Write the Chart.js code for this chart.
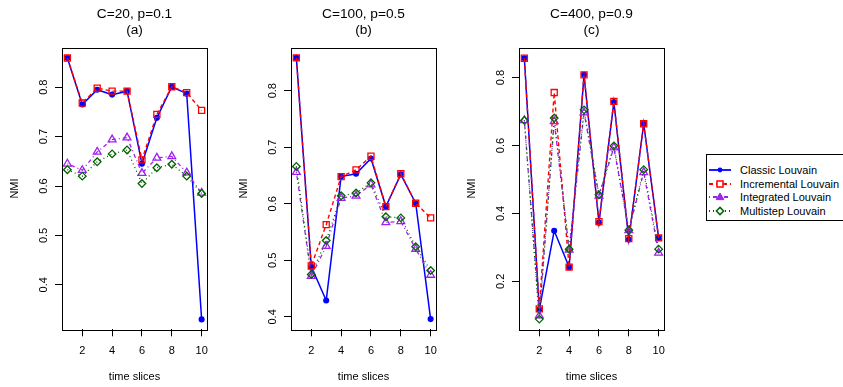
<!DOCTYPE html>
<html>
<head>
<meta charset="utf-8">
<script src="https://cdn.jsdelivr.net/npm/chart.js@4.4.1/dist/chart.umd.min.js"></script>
<style>
  body { margin: 0; background: #fff; }
  #wrap { position: relative; width: 843px; height: 387px; overflow: hidden; font-family: "Liberation Sans", Arial, sans-serif; }
  #wrap canvas { position: absolute; top: 0; }
  #legend { position: absolute; left: 706px; top: 154px; width: 150px; height: 67px; border: 1px solid #000; box-sizing: border-box; }
  #legend .row { position: absolute; left: 0; height: 14px; font-size: 11px; line-height: 14px; color: #000; white-space: nowrap; }
  #legend svg { position: absolute; left: 0; top: 0; }
  #legend span { position: absolute; left: 33px; top: 0; }
</style>
</head>
<body>
<div id="wrap">
  <canvas id="chartA" width="228" height="387" style="left:0px"></canvas>
  <canvas id="chartB" width="228" height="387" style="left:229px"></canvas>
  <canvas id="chartC" width="228" height="387" style="left:457px"></canvas>
  <div id="legend"></div>
</div>
<script>
// data
const timeSlices = [1, 2, 3, 4, 5, 6, 7, 8, 9, 10];
const xTicks = [2, 4, 6, 8, 10];
const seriesNames = ["Classic Louvain", "Incremental Louvain", "Integrated Louvain", "Multistep Louvain"];

// (a) C=20, p=0.1
const classicA     = [0.859, 0.765, 0.795, 0.785, 0.792, 0.645, 0.738, 0.801, 0.787, 0.330];
const incrementalA = [0.859, 0.768, 0.798, 0.792, 0.792, 0.653, 0.745, 0.801, 0.789, 0.753];
const integratedA  = [0.645, 0.632, 0.669, 0.694, 0.698, 0.626, 0.657, 0.660, 0.627, 0.586];
const multistepA   = [0.633, 0.620, 0.649, 0.665, 0.673, 0.605, 0.637, 0.644, 0.620, 0.585];
const yTicksA = [0.4, 0.5, 0.6, 0.7, 0.8];

// (b) C=100, p=0.5
const classicB     = [0.858, 0.489, 0.429, 0.648, 0.653, 0.680, 0.595, 0.652, 0.601, 0.396];
const incrementalB = [0.858, 0.490, 0.563, 0.648, 0.660, 0.684, 0.595, 0.653, 0.601, 0.575];
const integratedB  = [0.656, 0.472, 0.525, 0.610, 0.614, 0.634, 0.567, 0.569, 0.520, 0.474];
const multistepB   = [0.666, 0.475, 0.535, 0.614, 0.619, 0.637, 0.577, 0.575, 0.524, 0.482];
const yTicksB = [0.4, 0.5, 0.6, 0.7, 0.8];

// (c) C=400, p=0.9
const classicC     = [0.857, 0.117, 0.349, 0.242, 0.808, 0.373, 0.728, 0.323, 0.664, 0.328];
const incrementalC = [0.857, 0.119, 0.756, 0.242, 0.808, 0.376, 0.730, 0.326, 0.664, 0.328];
const integratedC  = [0.674, 0.099, 0.671, 0.293, 0.697, 0.452, 0.594, 0.350, 0.521, 0.284];
const multistepC   = [0.674, 0.089, 0.681, 0.295, 0.705, 0.455, 0.599, 0.351, 0.529, 0.295];
const yTicksC = [0.2, 0.4, 0.6, 0.8];

// line / marker look for each series (R: blue solid pch20, red dashed pch0, purple dotdash pch2, darkgreen dotted pch5)
const styles = [
  { color: "#0000FF", dash: [],          point: "circle",   radius: 2.4, width: 1.5, filled: true,  order: 3 },
  { color: "#FF0000", dash: [4, 3],      point: "rect",     radius: 4.3, width: 1.4, filled: false, order: 2 },
  { color: "#A020F0", dash: [1, 3, 4, 3], point: "triangle", radius: 4.5, width: 1.3, filled: false, order: 1 },
  { color: "#006400", dash: [1, 3],      point: "rectRot",  radius: 3.8, width: 1.3, filled: false, order: 0 }
];

Chart.defaults.font.family = '"Liberation Sans", Arial, sans-serif';
Chart.defaults.color = "#000";

// black frame round the plot region, like R's box()
const boxPlugin = {
  id: "box",
  afterDraw(chart) {
    const { ctx, chartArea: a } = chart;
    ctx.save();
    ctx.strokeStyle = "#000";
    ctx.lineWidth = 1;
    ctx.strokeRect(Math.round(a.left) + 0.5, Math.round(a.top) + 0.5, Math.round(a.right - a.left), Math.round(a.bottom - a.top));
    ctx.restore();
  }
};

function makePanel(id, title, tag, series, yMin, yMax, yTicks) {
  const datasets = series.map((vals, k) => {
    const s = styles[k];
    return {
      label: seriesNames[k],
      data: vals.map((v, i) => ({ x: timeSlices[i], y: v })),
      borderColor: s.color,
      backgroundColor: s.filled ? s.color : "rgba(0,0,0,0)",
      borderWidth: s.width,
      borderDash: s.dash,
      pointStyle: s.point,
      pointRadius: s.radius,
      pointBorderWidth: 1.3,
      pointBorderColor: s.color,
      pointBackgroundColor: s.filled ? s.color : "rgba(0,0,0,0)",
      tension: 0,
      order: s.order
    };
  });

  new Chart(document.getElementById(id).getContext("2d"), {
    type: "line",
    data: { datasets: datasets },
    plugins: [boxPlugin],
    options: {
      responsive: false,
      animation: false,
      devicePixelRatio: 1,
      layout: { padding: { left: 0, right: 21, top: 0, bottom: 0 } },
      plugins: {
        legend: { display: false },
        tooltip: { enabled: false },
        title: {
          display: true,
          fullSize: false,
          text: [title, tag],
          color: "#000",
          font: { size: 13.7, weight: "normal" },
          padding: { top: 5.8, bottom: 9 }
        }
      },
      scales: {
        x: {
          type: "linear",
          min: 0.64,
          max: 10.36,
          afterBuildTicks: (scale) => { scale.ticks = xTicks.map((v) => ({ value: v })); },
          afterFit: (scale) => { scale.height = 57.7; },
          border: { display: false },
          grid: { display: true, drawOnChartArea: false, drawTicks: true, tickLength: 7, color: "#000", lineWidth: 1 },
          ticks: { font: { size: 11 }, padding: 8, maxRotation: 0, autoSkip: false, callback: (v) => String(v) },
          title: { display: true, text: "time slices", font: { size: 11 }, padding: { top: 0, bottom: 3.4 } }
        },
        y: {
          min: yMin,
          max: yMax,
          afterBuildTicks: (scale) => { scale.ticks = yTicks.map((v) => ({ value: v })); },
          afterFit: (scale) => { scale.width = 62; },
          border: { display: false },
          grid: { display: true, drawOnChartArea: false, drawTicks: true, tickLength: 7, color: "#000", lineWidth: 1 },
          ticks: { font: { size: 11 }, minRotation: 90, maxRotation: 90, crossAlign: "center", padding: 3, autoSkip: false, callback: (v) => v.toFixed(1) },
          title: { display: true, text: "NMI", font: { size: 11 }, padding: { top: 8.4, bottom: 0 } }
        }
      }
    }
  });
}

makePanel("chartA", "C=20, p=0.1", "(a)", [classicA, incrementalA, integratedA, multistepA], 0.310, 0.880, yTicksA);
makePanel("chartB", "C=100, p=0.5", "(b)", [classicB, incrementalB, integratedB, multistepB], 0.378, 0.876, yTicksB);
makePanel("chartC", "C=400, p=0.9", "(c)", [classicC, incrementalC, integratedC, multistepC], 0.059, 0.888, yTicksC);

// legend, built from the same names and styles
function markerSvg(s) {
  const cx = 13, cy = 7;
  if (s.point === "circle") return `<circle cx="${cx}" cy="${cy}" r="2.4" fill="${s.color}"/>`;
  if (s.point === "rect") return `<rect x="${cx - 3}" y="${cy - 3}" width="6" height="6" fill="#fff" stroke="${s.color}" stroke-width="1.5"/>`;
  if (s.point === "triangle") return `<polygon points="${cx},${cy - 4} ${cx + 3.8},${cy + 2.6} ${cx - 3.8},${cy + 2.6}" fill="${s.color}" stroke="${s.color}" stroke-width="1"/>`;
  return `<polygon points="${cx},${cy - 3.6} ${cx + 3.6},${cy} ${cx},${cy + 3.6} ${cx - 3.6},${cy}" fill="#fff" stroke="${s.color}" stroke-width="1.5"/>`;
}
const legend = document.getElementById("legend");
seriesNames.forEach((name, k) => {
  const s = styles[k];
  const row = document.createElement("div");
  row.className = "row";
  row.style.top = (8.2 + k * 13.5) + "px";
  row.style.width = "148px";
  row.innerHTML =
    `<svg width="28" height="14"><line x1="2" y1="7" x2="24" y2="7" stroke="${s.color}" stroke-width="1.8" stroke-dasharray="${s.dash.length ? s.dash.join(" ") : "none"}"/>${markerSvg(s)}</svg>` +
    `<span>${name}</span>`;
  legend.appendChild(row);
});
</script>
</body>
</html>
